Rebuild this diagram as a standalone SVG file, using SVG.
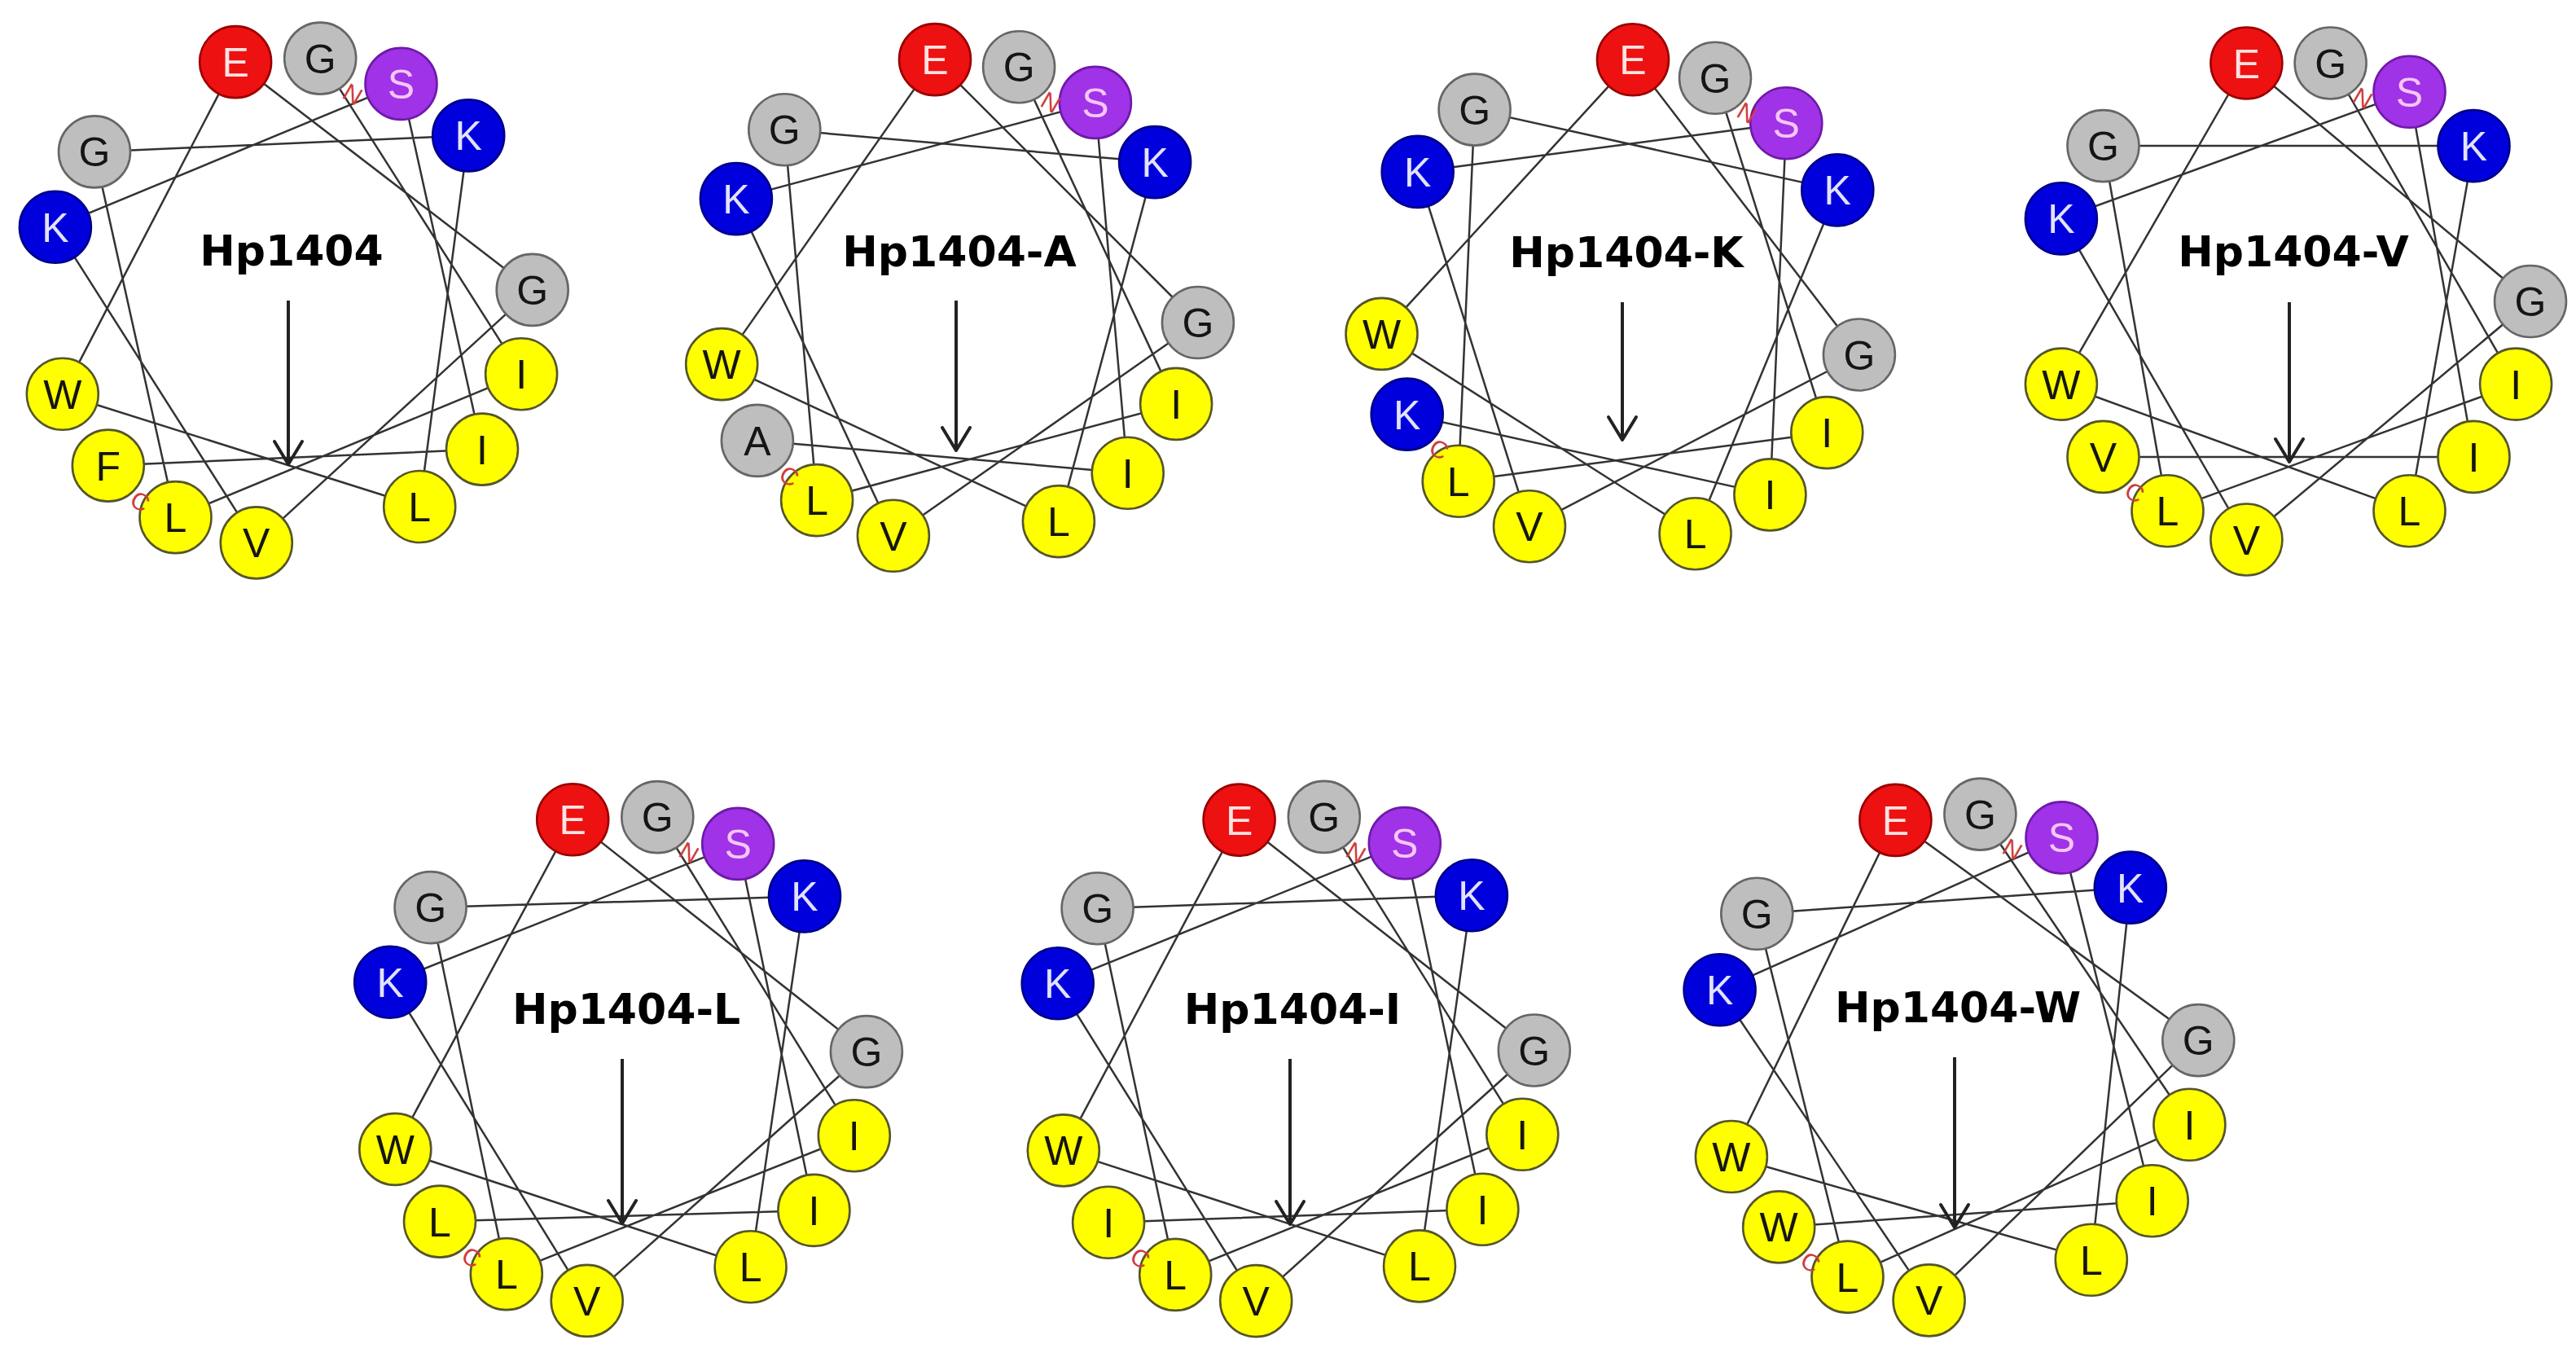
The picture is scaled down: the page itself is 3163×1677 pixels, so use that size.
<svg xmlns="http://www.w3.org/2000/svg" width="3163" height="1677" viewBox="0 0 3163 1677">
<style>
.res circle{stroke-width:2.6}
.res text{font-family:"Liberation Sans",Arial,sans-serif;font-size:50px;text-anchor:middle}
.gray circle{fill:#bebebe;stroke:#666}.gray text{fill:#151515}
.yel circle{fill:#ffff00;stroke:#55552c}.yel text{fill:#151515}
.red circle{fill:#ee1111;stroke:#9a0000}.red text{fill:#ffe2e2}
.blue circle{fill:#0000dd;stroke:#00008a}.blue text{fill:#e2e2ff}
.pur circle{fill:#a032e8;stroke:#6e1aa8}.pur text{fill:#f6c6f6}
.conn polyline{fill:none;stroke:#333;stroke-width:2.5;stroke-linejoin:round}
.title{font-family:"DejaVu Sans",Verdana,sans-serif;font-weight:bold;font-size:52px;text-anchor:middle;fill:#000}
.mom line{stroke:#222;stroke-width:4;marker-end:url(#ah)}
.term{font-family:"Liberation Sans",Arial,sans-serif;font-size:30px;text-anchor:middle;fill:#d03c3c}
</style>
<defs>
<marker id="ah" markerUnits="userSpaceOnUse" viewBox="-32 -20 36 40" markerWidth="36" markerHeight="40" refX="0" refY="0" orient="auto">
<path d="M-28,-17 L0,0 L-28,17" fill="none" stroke="#222" stroke-width="4" stroke-linejoin="round" stroke-linecap="round"/>
</marker>
</defs>
<rect width="3163" height="1677" fill="#fff"/>
<g id="connectors" class="conn">
<polyline points="393.2,71.6 640.1,459.3 215.5,635.1 116.0,186.4 575.2,166.4 515.2,622.0 76.8,483.8 289.1,76.1 653.7,355.9 314.8,666.4 67.9,278.7 492.5,102.9 592.0,551.6 132.8,571.6"/>
<polyline points="1251.1,82.2 1444.1,495.9 1003.1,614.1 963.3,159.3 1418.1,199.1 1299.9,640.1 886.2,447.1 1148.0,73.1 1470.9,396.0 1096.9,657.8 903.9,244.1 1344.9,125.9 1384.7,580.7 929.9,540.9"/>
<polyline points="2106.0,95.7 2243.3,531.1 1790.7,590.7 1810.6,134.6 2256.3,233.4 2081.6,655.2 1696.5,409.9 2005.0,73.3 2282.9,435.5 1878.0,646.3 1740.7,210.9 2193.3,151.3 2173.4,607.4 1727.7,508.6"/>
<polyline points="2861.6,77.5 3089.1,471.6 2661.5,627.2 2582.5,179.1 3037.5,179.1 2958.5,627.2 2530.9,471.6 2758.4,77.5 3107.0,370.0 2758.4,662.5 2530.9,268.4 2958.5,112.8 3037.5,560.9 2582.5,560.9"/>
<polyline points="807.3,1003.1 1048.8,1394.2 621.8,1564.1 528.6,1114.1 988.0,1100.4 921.6,1555.2 485.3,1410.9 703.2,1006.2 1063.9,1291.1 720.7,1596.9 479.2,1205.8 906.2,1035.9 999.4,1485.9 540.0,1499.6"/>
<polyline points="1625.8,1002.9 1869.3,1392.7 1443.2,1564.9 1347.6,1115.3 1806.9,1099.3 1743.0,1554.4 1305.8,1412.4 1521.6,1006.6 1883.8,1289.5 1542.2,1597.1 1298.7,1207.3 1724.8,1035.1 1820.4,1484.7 1361.1,1500.7"/>
<polyline points="2431.4,999.6 2688.4,1380.7 2268.5,1567.6 2157.3,1121.7 2615.8,1089.6 2567.8,1546.7 2125.9,1420.0 2327.4,1006.9 2699.3,1277.1 2368.6,1596.4 2111.6,1215.3 2531.5,1028.4 2642.7,1474.3 2184.2,1506.4"/>
</g>
<g id="moments" class="mom">
<line x1="354" y1="369" x2="354" y2="570"/>
<line x1="1174" y1="369" x2="1174" y2="553"/>
<line x1="1992" y1="371" x2="1992" y2="540"/>
<line x1="2811" y1="371" x2="2811" y2="567"/>
<line x1="764" y1="1300" x2="764" y2="1502"/>
<line x1="1584" y1="1300" x2="1584" y2="1503"/>
<line x1="2400" y1="1298" x2="2400" y2="1507"/>
</g>
<g id="titles">
<text class="title" x="358" y="326">Hp1404</text>
<text class="title" x="1178" y="327">Hp1404-A</text>
<text class="title" x="1997" y="328">Hp1404-K</text>
<text class="title" x="2816" y="327">Hp1404-V</text>
<text class="title" x="769" y="1257">Hp1404-L</text>
<text class="title" x="1587" y="1257">Hp1404-I</text>
<text class="title" x="2404" y="1255">Hp1404-W</text>
</g>
<g id="wheel1">
<g id="w1-F14" class="res yel"><circle cx="132.8" cy="571.6" r="44"/><text x="132.8" y="589.6">F</text></g>
<g id="w1-G1" class="res gray"><circle cx="393.2" cy="71.6" r="44"/><text x="393.2" y="89.6">G</text></g>
<g id="w1-I2" class="res yel"><circle cx="640.1" cy="459.3" r="44"/><text x="640.1" y="477.3">I</text></g>
<g id="w1-L3" class="res yel"><circle cx="215.5" cy="635.1" r="44"/><text x="215.5" y="653.1">L</text></g>
<g id="w1-G4" class="res gray"><circle cx="116.0" cy="186.4" r="44"/><text x="116.0" y="204.4">G</text></g>
<g id="w1-K5" class="res blue"><circle cx="575.2" cy="166.4" r="44"/><text x="575.2" y="184.4">K</text></g>
<g id="w1-L6" class="res yel"><circle cx="515.2" cy="622.0" r="44"/><text x="515.2" y="640.0">L</text></g>
<g id="w1-W7" class="res yel"><circle cx="76.8" cy="483.8" r="44"/><text x="76.8" y="501.8">W</text></g>
<g id="w1-E8" class="res red"><circle cx="289.1" cy="76.1" r="44"/><text x="289.1" y="94.1">E</text></g>
<g id="w1-G9" class="res gray"><circle cx="653.7" cy="355.9" r="44"/><text x="653.7" y="373.9">G</text></g>
<g id="w1-V10" class="res yel"><circle cx="314.8" cy="666.4" r="44"/><text x="314.8" y="684.4">V</text></g>
<g id="w1-K11" class="res blue"><circle cx="67.9" cy="278.7" r="44"/><text x="67.9" y="296.7">K</text></g>
<g id="w1-S12" class="res pur"><circle cx="492.5" cy="102.9" r="44"/><text x="492.5" y="120.9">S</text></g>
<g id="w1-I13" class="res yel"><circle cx="592.0" cy="551.6" r="44"/><text x="592.0" y="569.6">I</text></g>
<text class="term" x="433" y="126" transform="rotate(30 433 116)">N</text>
<text class="term" x="172" y="626" transform="rotate(30 172 616)">C</text>
</g>
<g id="wheel2">
<g id="w2-A14" class="res gray"><circle cx="929.9" cy="540.9" r="44"/><text x="929.9" y="558.9">A</text></g>
<g id="w2-G1" class="res gray"><circle cx="1251.1" cy="82.2" r="44"/><text x="1251.1" y="100.2">G</text></g>
<g id="w2-I2" class="res yel"><circle cx="1444.1" cy="495.9" r="44"/><text x="1444.1" y="513.9">I</text></g>
<g id="w2-L3" class="res yel"><circle cx="1003.1" cy="614.1" r="44"/><text x="1003.1" y="632.1">L</text></g>
<g id="w2-G4" class="res gray"><circle cx="963.3" cy="159.3" r="44"/><text x="963.3" y="177.3">G</text></g>
<g id="w2-K5" class="res blue"><circle cx="1418.1" cy="199.1" r="44"/><text x="1418.1" y="217.1">K</text></g>
<g id="w2-L6" class="res yel"><circle cx="1299.9" cy="640.1" r="44"/><text x="1299.9" y="658.1">L</text></g>
<g id="w2-W7" class="res yel"><circle cx="886.2" cy="447.1" r="44"/><text x="886.2" y="465.1">W</text></g>
<g id="w2-E8" class="res red"><circle cx="1148.0" cy="73.1" r="44"/><text x="1148.0" y="91.1">E</text></g>
<g id="w2-G9" class="res gray"><circle cx="1470.9" cy="396.0" r="44"/><text x="1470.9" y="414.0">G</text></g>
<g id="w2-V10" class="res yel"><circle cx="1096.9" cy="657.8" r="44"/><text x="1096.9" y="675.8">V</text></g>
<g id="w2-K11" class="res blue"><circle cx="903.9" cy="244.1" r="44"/><text x="903.9" y="262.1">K</text></g>
<g id="w2-S12" class="res pur"><circle cx="1344.9" cy="125.9" r="44"/><text x="1344.9" y="143.9">S</text></g>
<g id="w2-I13" class="res yel"><circle cx="1384.7" cy="580.7" r="44"/><text x="1384.7" y="598.7">I</text></g>
<text class="term" x="1290" y="136" transform="rotate(30 1290 126)">N</text>
<text class="term" x="969" y="595" transform="rotate(30 969 585)">C</text>
</g>
<g id="wheel3">
<g id="w3-K14" class="res blue"><circle cx="1727.7" cy="508.6" r="44"/><text x="1727.7" y="526.6">K</text></g>
<g id="w3-G1" class="res gray"><circle cx="2106.0" cy="95.7" r="44"/><text x="2106.0" y="113.7">G</text></g>
<g id="w3-I2" class="res yel"><circle cx="2243.3" cy="531.1" r="44"/><text x="2243.3" y="549.1">I</text></g>
<g id="w3-L3" class="res yel"><circle cx="1790.7" cy="590.7" r="44"/><text x="1790.7" y="608.7">L</text></g>
<g id="w3-G4" class="res gray"><circle cx="1810.6" cy="134.6" r="44"/><text x="1810.6" y="152.6">G</text></g>
<g id="w3-K5" class="res blue"><circle cx="2256.3" cy="233.4" r="44"/><text x="2256.3" y="251.4">K</text></g>
<g id="w3-L6" class="res yel"><circle cx="2081.6" cy="655.2" r="44"/><text x="2081.6" y="673.2">L</text></g>
<g id="w3-W7" class="res yel"><circle cx="1696.5" cy="409.9" r="44"/><text x="1696.5" y="427.9">W</text></g>
<g id="w3-E8" class="res red"><circle cx="2005.0" cy="73.3" r="44"/><text x="2005.0" y="91.3">E</text></g>
<g id="w3-G9" class="res gray"><circle cx="2282.9" cy="435.5" r="44"/><text x="2282.9" y="453.5">G</text></g>
<g id="w3-V10" class="res yel"><circle cx="1878.0" cy="646.3" r="44"/><text x="1878.0" y="664.3">V</text></g>
<g id="w3-K11" class="res blue"><circle cx="1740.7" cy="210.9" r="44"/><text x="1740.7" y="228.9">K</text></g>
<g id="w3-S12" class="res pur"><circle cx="2193.3" cy="151.3" r="44"/><text x="2193.3" y="169.3">S</text></g>
<g id="w3-I13" class="res yel"><circle cx="2173.4" cy="607.4" r="44"/><text x="2173.4" y="625.4">I</text></g>
<text class="term" x="2145" y="149" transform="rotate(30 2145 139)">N</text>
<text class="term" x="1767" y="562" transform="rotate(30 1767 552)">C</text>
</g>
<g id="wheel4">
<g id="w4-V14" class="res yel"><circle cx="2582.5" cy="560.9" r="44"/><text x="2582.5" y="578.9">V</text></g>
<g id="w4-G1" class="res gray"><circle cx="2861.6" cy="77.5" r="44"/><text x="2861.6" y="95.5">G</text></g>
<g id="w4-I2" class="res yel"><circle cx="3089.1" cy="471.6" r="44"/><text x="3089.1" y="489.6">I</text></g>
<g id="w4-L3" class="res yel"><circle cx="2661.5" cy="627.2" r="44"/><text x="2661.5" y="645.2">L</text></g>
<g id="w4-G4" class="res gray"><circle cx="2582.5" cy="179.1" r="44"/><text x="2582.5" y="197.1">G</text></g>
<g id="w4-K5" class="res blue"><circle cx="3037.5" cy="179.1" r="44"/><text x="3037.5" y="197.1">K</text></g>
<g id="w4-L6" class="res yel"><circle cx="2958.5" cy="627.2" r="44"/><text x="2958.5" y="645.2">L</text></g>
<g id="w4-W7" class="res yel"><circle cx="2530.9" cy="471.6" r="44"/><text x="2530.9" y="489.6">W</text></g>
<g id="w4-E8" class="res red"><circle cx="2758.4" cy="77.5" r="44"/><text x="2758.4" y="95.5">E</text></g>
<g id="w4-G9" class="res gray"><circle cx="3107.0" cy="370.0" r="44"/><text x="3107.0" y="388.0">G</text></g>
<g id="w4-V10" class="res yel"><circle cx="2758.4" cy="662.5" r="44"/><text x="2758.4" y="680.5">V</text></g>
<g id="w4-K11" class="res blue"><circle cx="2530.9" cy="268.4" r="44"/><text x="2530.9" y="286.4">K</text></g>
<g id="w4-S12" class="res pur"><circle cx="2958.5" cy="112.8" r="44"/><text x="2958.5" y="130.8">S</text></g>
<g id="w4-I13" class="res yel"><circle cx="3037.5" cy="560.9" r="44"/><text x="3037.5" y="578.9">I</text></g>
<text class="term" x="2901" y="131" transform="rotate(30 2901 121)">N</text>
<text class="term" x="2621" y="615" transform="rotate(30 2621 605)">C</text>
</g>
<g id="wheel5">
<g id="w5-L14" class="res yel"><circle cx="540.0" cy="1499.6" r="44"/><text x="540.0" y="1517.6">L</text></g>
<g id="w5-G1" class="res gray"><circle cx="807.3" cy="1003.1" r="44"/><text x="807.3" y="1021.1">G</text></g>
<g id="w5-I2" class="res yel"><circle cx="1048.8" cy="1394.2" r="44"/><text x="1048.8" y="1412.2">I</text></g>
<g id="w5-L3" class="res yel"><circle cx="621.8" cy="1564.1" r="44"/><text x="621.8" y="1582.1">L</text></g>
<g id="w5-G4" class="res gray"><circle cx="528.6" cy="1114.1" r="44"/><text x="528.6" y="1132.1">G</text></g>
<g id="w5-K5" class="res blue"><circle cx="988.0" cy="1100.4" r="44"/><text x="988.0" y="1118.4">K</text></g>
<g id="w5-L6" class="res yel"><circle cx="921.6" cy="1555.2" r="44"/><text x="921.6" y="1573.2">L</text></g>
<g id="w5-W7" class="res yel"><circle cx="485.3" cy="1410.9" r="44"/><text x="485.3" y="1428.9">W</text></g>
<g id="w5-E8" class="res red"><circle cx="703.2" cy="1006.2" r="44"/><text x="703.2" y="1024.2">E</text></g>
<g id="w5-G9" class="res gray"><circle cx="1063.9" cy="1291.1" r="44"/><text x="1063.9" y="1309.1">G</text></g>
<g id="w5-V10" class="res yel"><circle cx="720.7" cy="1596.9" r="44"/><text x="720.7" y="1614.9">V</text></g>
<g id="w5-K11" class="res blue"><circle cx="479.2" cy="1205.8" r="44"/><text x="479.2" y="1223.8">K</text></g>
<g id="w5-S12" class="res pur"><circle cx="906.2" cy="1035.9" r="44"/><text x="906.2" y="1053.9">S</text></g>
<g id="w5-I13" class="res yel"><circle cx="999.4" cy="1485.9" r="44"/><text x="999.4" y="1503.9">I</text></g>
<text class="term" x="846" y="1057" transform="rotate(30 846 1047)">N</text>
<text class="term" x="579" y="1554" transform="rotate(30 579 1544)">C</text>
</g>
<g id="wheel6">
<g id="w6-I14" class="res yel"><circle cx="1361.1" cy="1500.7" r="44"/><text x="1361.1" y="1518.7">I</text></g>
<g id="w6-G1" class="res gray"><circle cx="1625.8" cy="1002.9" r="44"/><text x="1625.8" y="1020.9">G</text></g>
<g id="w6-I2" class="res yel"><circle cx="1869.3" cy="1392.7" r="44"/><text x="1869.3" y="1410.7">I</text></g>
<g id="w6-L3" class="res yel"><circle cx="1443.2" cy="1564.9" r="44"/><text x="1443.2" y="1582.9">L</text></g>
<g id="w6-G4" class="res gray"><circle cx="1347.6" cy="1115.3" r="44"/><text x="1347.6" y="1133.3">G</text></g>
<g id="w6-K5" class="res blue"><circle cx="1806.9" cy="1099.3" r="44"/><text x="1806.9" y="1117.3">K</text></g>
<g id="w6-L6" class="res yel"><circle cx="1743.0" cy="1554.4" r="44"/><text x="1743.0" y="1572.4">L</text></g>
<g id="w6-W7" class="res yel"><circle cx="1305.8" cy="1412.4" r="44"/><text x="1305.8" y="1430.4">W</text></g>
<g id="w6-E8" class="res red"><circle cx="1521.6" cy="1006.6" r="44"/><text x="1521.6" y="1024.6">E</text></g>
<g id="w6-G9" class="res gray"><circle cx="1883.8" cy="1289.5" r="44"/><text x="1883.8" y="1307.5">G</text></g>
<g id="w6-V10" class="res yel"><circle cx="1542.2" cy="1597.1" r="44"/><text x="1542.2" y="1615.1">V</text></g>
<g id="w6-K11" class="res blue"><circle cx="1298.7" cy="1207.3" r="44"/><text x="1298.7" y="1225.3">K</text></g>
<g id="w6-S12" class="res pur"><circle cx="1724.8" cy="1035.1" r="44"/><text x="1724.8" y="1053.1">S</text></g>
<g id="w6-I13" class="res yel"><circle cx="1820.4" cy="1484.7" r="44"/><text x="1820.4" y="1502.7">I</text></g>
<text class="term" x="1665" y="1057" transform="rotate(30 1665 1047)">N</text>
<text class="term" x="1400" y="1555" transform="rotate(30 1400 1545)">C</text>
</g>
<g id="wheel7">
<g id="w7-W14" class="res yel"><circle cx="2184.2" cy="1506.4" r="44"/><text x="2184.2" y="1524.4">W</text></g>
<g id="w7-G1" class="res gray"><circle cx="2431.4" cy="999.6" r="44"/><text x="2431.4" y="1017.6">G</text></g>
<g id="w7-I2" class="res yel"><circle cx="2688.4" cy="1380.7" r="44"/><text x="2688.4" y="1398.7">I</text></g>
<g id="w7-L3" class="res yel"><circle cx="2268.5" cy="1567.6" r="44"/><text x="2268.5" y="1585.6">L</text></g>
<g id="w7-G4" class="res gray"><circle cx="2157.3" cy="1121.7" r="44"/><text x="2157.3" y="1139.7">G</text></g>
<g id="w7-K5" class="res blue"><circle cx="2615.8" cy="1089.6" r="44"/><text x="2615.8" y="1107.6">K</text></g>
<g id="w7-L6" class="res yel"><circle cx="2567.8" cy="1546.7" r="44"/><text x="2567.8" y="1564.7">L</text></g>
<g id="w7-W7" class="res yel"><circle cx="2125.9" cy="1420.0" r="44"/><text x="2125.9" y="1438.0">W</text></g>
<g id="w7-E8" class="res red"><circle cx="2327.4" cy="1006.9" r="44"/><text x="2327.4" y="1024.9">E</text></g>
<g id="w7-G9" class="res gray"><circle cx="2699.3" cy="1277.1" r="44"/><text x="2699.3" y="1295.1">G</text></g>
<g id="w7-V10" class="res yel"><circle cx="2368.6" cy="1596.4" r="44"/><text x="2368.6" y="1614.4">V</text></g>
<g id="w7-K11" class="res blue"><circle cx="2111.6" cy="1215.3" r="44"/><text x="2111.6" y="1233.3">K</text></g>
<g id="w7-S12" class="res pur"><circle cx="2531.5" cy="1028.4" r="44"/><text x="2531.5" y="1046.4">S</text></g>
<g id="w7-I13" class="res yel"><circle cx="2642.7" cy="1474.3" r="44"/><text x="2642.7" y="1492.3">I</text></g>
<text class="term" x="2471" y="1053" transform="rotate(30 2471 1043)">N</text>
<text class="term" x="2223" y="1560" transform="rotate(30 2223 1550)">C</text>
</g>
</svg>
